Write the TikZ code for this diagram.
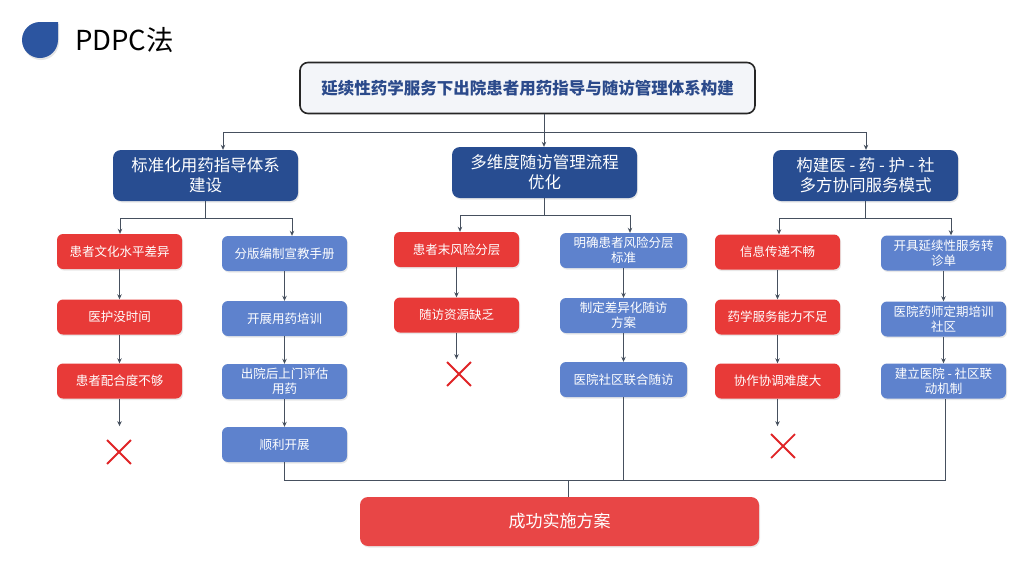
\documentclass[tikz,border=0pt]{standalone}
\usepackage{fontspec}
\newfontfamily\cjk{Noto Sans CJK SC}
\usetikzlibrary{arrows.meta,shapes.misc,shadows}
\definecolor{navy}{HTML}{284D91}
\definecolor{iconblue}{HTML}{2C55A0}
\definecolor{redbox}{HTML}{E83A38}
\definecolor{bluebox}{HTML}{5E82CD}
\definecolor{redfinal}{HTML}{E84646}
\definecolor{linec}{HTML}{46505E}
\definecolor{topfill}{HTML}{F3F5F9}
\definecolor{toptext}{HTML}{2B4A8B}
\definecolor{xred}{HTML}{E02426}
\tikzset{
  base/.style={rounded corners=6pt, align=center, text=white, inner sep=2pt,
    drop shadow={opacity=0.18, shadow xshift=1pt, shadow yshift=-1.5pt}},
  midbox/.style={base, fill=navy, minimum width=185pt, minimum height=51pt, rounded corners=8pt,
    font=\cjk\fontsize{16.5}{20}\selectfont},
  redb/.style={base, fill=redbox, minimum width=125pt, minimum height=35pt,
    font=\cjk\fontsize{12.5}{15}\selectfont},
  blueb/.style={base, fill=bluebox, minimum width=125pt, minimum height=35pt,
    font=\cjk\fontsize{12.5}{15}\selectfont},
  conn/.style={draw=linec, line width=0.8pt},
  arr/.style={conn, -{Stealth[length=5pt,width=4.5pt]}},
  xmark/.style={cross out, draw=xred, line width=1.8pt, minimum size=22pt, inner sep=0pt}
}
\begin{document}
\begin{tikzpicture}[x=1pt,y=-1pt]
\useasboundingbox (0,0) rectangle (1024,576);
\fill[white] (0,0) rectangle (1024,576);
% header
\fill[iconblue, drop shadow={opacity=0.2, shadow xshift=1pt, shadow yshift=-2pt}]
  (58,22) -- (58,40) arc[start angle=0,end angle=270,radius=18] -- cycle;
\node[anchor=west, inner sep=0pt, font=\cjk\fontsize{27.5}{32}\selectfont] (head) at (75,40) {PDPC法};
% top box
\node[draw=black!85, line width=1.6pt, fill=topfill, rounded corners=8pt,
      minimum width=455pt, minimum height=51pt, text=toptext,
      font=\cjk\bfseries\fontsize{16.5}{20}\selectfont] (top) at (527.5,88)
  {延续性药学服务下出院患者用药指导与随访管理体系构建};
% mid boxes
\node[midbox] (m1) at (205.5,175.5) {标准化用药指导体系\\建设};
\node[midbox] (m2) at (544.5,172.5) {多维度随访管理流程\\优化};
\node[midbox] (m3) at (865.5,175.5) {构建医 - 药 - 护 - 社\\多方协同服务模式};
% left column
\node[redb] (lr1) at (119.5,251.5) {患者文化水平差异};
\node[redb] (lr2) at (119.5,317) {医护没时间};
\node[redb] (lr3) at (119.5,381) {患者配合度不够};
\node[xmark] (lx) at (119,452) {};
\node[blueb] (lb1) at (284.5,253.5) {分版编制宣教手册};
\node[blueb] (lb2) at (284.5,318.5) {开展用药培训};
\node[blueb] (lb3) at (284.5,381.5) {出院后上门评估\\用药};
\node[blueb] (lb4) at (284.5,444.5) {顺利开展};
% middle column
\node[redb] (mr1) at (456.5,249.5) {患者末风险分层};
\node[redb] (mr2) at (456.5,315) {随访资源缺乏};
\node[xmark] (mx) at (459,374) {};
\node[blueb, minimum width=127pt] (mb1) at (623.5,250.5) {明确患者风险分层\\标准};
\node[blueb, minimum width=127pt] (mb2) at (623.5,315.5) {制定差异化随访\\方案};
\node[blueb, minimum width=127pt] (mb3) at (623.5,379.5) {医院社区联合随访};
% right column
\node[redb] (rr1) at (777.5,252) {信息传递不畅};
\node[redb] (rr2) at (777.5,317) {药学服务能力不足};
\node[redb] (rr3) at (777.5,381) {协作协调难度大};
\node[xmark] (rx) at (783,446) {};
\node[blueb] (rb1) at (943.5,253) {开具延续性服务转\\诊单};
\node[blueb] (rb2) at (943.5,319) {医院药师定期培训\\社区};
\node[blueb] (rb3) at (943.5,381) {建立医院 - 社区联\\动机制};
% final box
\node[base, fill=redfinal, minimum width=399pt, minimum height=49pt, rounded corners=8pt,
      font=\cjk\fontsize{17}{20}\selectfont] (fin) at (559.5,521.5) {成功实施方案};
% top connectors
\coordinate (tj) at (544,132);
\coordinate (tl) at (223,132);
\coordinate (tr) at (866,132);
\draw[conn] (tj |- top.south) -- (tj);
\draw[conn] (tl) -- (tr);
\draw[arr] (tl) -- (tl |- m1.north);
\draw[arr] (tj) -- (tj |- m2.north);
\draw[arr] (tr) -- (tr |- m3.north);
% left branch
\coordinate (j1l) at (120,218);
\coordinate (j1r) at (292,218);
\draw[conn] (m1.south) -- (m1.south |- j1l);
\draw[conn] (j1l) -- (j1r);
\draw[arr] (j1l) -- (j1l |- lr1.north);
\draw[arr] (j1r) -- (j1r |- lb1.north);
\draw[arr] (lr1.south) -- (lr2.north);
\draw[arr] (lr2.south) -- (lr3.north);
\draw[arr, shorten >=14pt] (lr3.south) -- (lr3.south |- lx.north);
\draw[arr] (lb1.south) -- (lb2.north);
\draw[arr] (lb2.south) -- (lb3.north);
\draw[arr] (lb3.south) -- (lb4.north);
% middle branch
\coordinate (j2l) at (460,215);
\coordinate (j2r) at (630,215);
\draw[conn] (m2.south) -- (m2.south |- j2l);
\draw[conn] (j2l) -- (j2r);
\draw[arr] (j2l) -- (j2l |- mr1.north);
\draw[arr] (j2r) -- (j2r |- mb1.north);
\draw[arr] (mr1.south) -- (mr2.north);
\draw[arr, shorten >=3pt] (mr2.south) -- (mr2.south |- mx.north);
\draw[arr] (mb1.south) -- (mb2.north);
\draw[arr] (mb2.south) -- (mb3.north);
% right branch
\coordinate (j3l) at (779,218);
\coordinate (j3r) at (951,218);
\draw[conn] (m3.south) -- (m3.south |- j3l);
\draw[conn] (j3l) -- (j3r);
\draw[arr] (j3l) -- (j3l |- rr1.north);
\draw[arr] (j3r) -- (j3r |- rb1.north);
\draw[arr] (rr1.south) -- (rr2.north);
\draw[arr] (rr2.south) -- (rr3.north);
\draw[arr, shorten >=8pt] (rr3.south) -- (rr3.south |- rx.north);
\draw[arr] (rb1.south) -- (rb2.north);
\draw[arr] (rb2.south) -- (rb3.north);
% bottom merge
\coordinate (bl) at (285,480);
\coordinate (br) at (945,480);
\coordinate (bj) at (568,480);
\draw[conn] (lb4.south) -- (lb4.south |- bl) -- (br) -- (br |- rb3.south);
\draw[conn] (mb3.south) -- (mb3.south |- bl);
\draw[conn] (bj) -- (bj |- fin.north);
\end{tikzpicture}
\end{document}
